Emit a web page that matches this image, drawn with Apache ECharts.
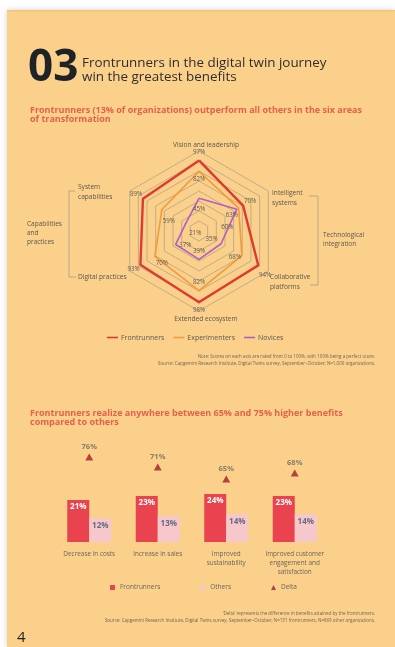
<!DOCTYPE html>
<html><head><meta charset="utf-8">
<script src="https://cdn.jsdelivr.net/npm/echarts@6/dist/echarts.min.js"></script>
<style>html,body{margin:0;padding:0;background:#fff;}#c{width:395px;height:647px;}</style>
</head><body><div id="c"></div>
<script>
// ---- data (radar axes listed counter-clockwise from top) ----
const radarAxes = ['Vision and leadership', 'System\ncapabilities', 'Digital practices', 'Extended ecosystem', 'Collaborative\nplatforms', 'Intelligent\nsystems'];
const radarSeriesNames = ['Frontrunners', 'Experimenters', 'Novices'];
const frontrunnersRadar = [97, 89, 93, 98, 94, 70];
const experimentersRadar = [82, 59, 70, 82, 68, 63];
const novicesRadar = [45, 21, 37, 39, 35, 60];

const benefitCategories = ['Decrease in costs', 'Increase in sales', 'Improved\nsustainability', 'Improved customer\nengagement and\nsatisfaction'];
const benefitSeriesNames = ['Frontrunners\u200b', 'Others', 'Delta'];
const frontrunnersBenefit = [21, 23, 24, 23];
const othersBenefit = [12, 13, 14, 14];
const deltaBenefit = [76, 71, 65, 68];

// ---- layout / styles ----
const F = '"Open Sans", Lato, sans-serif';
const CX = 199, CY = 231;
const radarColors = ['#e0392f', '#f29a3c', '#b25ec4'];
const radarWidths = [2.4, 1.6, 1.6];
const labelOffsets = [8, -8, -11];
const radarValues = [frontrunnersRadar, experimentersRadar, novicesRadar];
const radarNameLayout = [
  { x: 206, y: 145, align: 'center' },
  { x: 78, y: 192, align: 'left' },
  { x: 78, y: 277, align: 'left' },
  { x: 206, y: 319, align: 'center' },
  { x: 270, y: 282, align: 'left' },
  { x: 272, y: 198, align: 'left' }
];

function txt(text, x, y, size, color, opts) {
  opts = opts || {};
  return {
    type: 'text', z: 100, silent: true,
    style: {
      text: text, x: x, y: y, fill: color, fontSize: size, fontFamily: F,
      fontWeight: opts.weight || 'normal', align: opts.align || 'left',
      verticalAlign: opts.va || 'middle', lineHeight: opts.lh || size * 1.15
    }
  };
}
function line(x1, y1, x2, y2) {
  return { type: 'line', z: 50, silent: true, shape: { x1: x1, y1: y1, x2: x2, y2: y2 },
    style: { stroke: '#a89d88', lineWidth: 0.8 } };
}

const graphics = [
  { type: 'rect', z: -10, silent: true, shape: { x: 7, y: 10, width: 388, height: 637 },
    style: { fill: '#fbd08a', shadowBlur: 6, shadowColor: 'rgba(0,0,0,0.18)' } },
  { type: 'rect', z: -9, silent: true, shape: { x: 7, y: 10, width: 388, height: 1.5 },
    style: { fill: '#f1c37c' } },
  txt('03', 28, 68, 44, '#1f2327', { weight: 'bold' }),
  txt('Frontrunners in the digital twin journey\nwin the greatest benefits', 82, 70, 13.4, '#2e2e2e', { lh: 14.5 }),
  txt('Frontrunners (13% of organizations) outperform all others in the six areas\nof transformation', 30, 115, 9, '#e6604b', { weight: 'bold', lh: 8.8 }),
  // left bracket
  line(69, 191, 69, 277), line(69, 191, 75, 191), line(69, 277, 76, 277),
  txt('Capabilities\nand\npractices', 27, 233, 6.5, '#5c574f', { lh: 9 }),
  // right bracket
  line(318, 196, 318, 285), line(309, 196, 318, 196), line(310, 285, 318, 285),
  txt('Technological\nintegration', 323, 240, 6.5, '#5c574f', { lh: 9 }),
  txt('Note: Scores on each axis are rated from 0 to 100%, with 100% being a perfect score.\nSource: Capgemini Research Institute, Digital Twins survey, September\u2013October; N=1,000 organizations.', 375, 360, 4.5, '#6f6658', { align: 'right', lh: 7 }),
  txt('Frontrunners realize anywhere between 65% and 75% higher benefits\ncompared to others', 30, 418, 9, '#e6604b', { weight: 'bold', lh: 9 }),
  txt('\u2018Delta\u2019 represents the difference in benefits attained by the frontrunners.\nSource: Capgemini Research Institute, Digital Twins survey, September\u2013October; N=131 frontrunners, N=869 other organizations.', 375, 617, 4.5, '#6f6658', { align: 'right', lh: 7 }),
  txt('4', 17, 638, 15, '#222222')
];
radarAxes.forEach((n, i) => {
  const L = radarNameLayout[i];
  graphics.push(txt(n, L.x, L.y, 6.6, '#5c574f', { align: L.align, lh: 9.5 }));
});

const chart = echarts.init(document.getElementById('c'), null, { renderer: 'canvas' });
chart.setOption({
  animation: false,
  backgroundColor: '#ffffff',
  textStyle: { fontFamily: F },
  graphic: graphics,
  legend: [
    {
      data: radarSeriesNames.map((n, i) => ({ name: n, icon: 'rect', itemStyle: { color: radarColors[i] } })),
      left: 102, top: 329, itemWidth: 11, itemHeight: 1.6, itemGap: 9, selectedMode: false,
      textStyle: { fontSize: 7, color: '#5a5a5a', fontFamily: F, padding: [0, 0, 0, -2] }
    },
    {
      data: [
        { name: benefitSeriesNames[0], icon: 'rect' },
        { name: benefitSeriesNames[1], icon: 'rect' },
        { name: benefitSeriesNames[2], icon: 'triangle' }
      ],
      left: 105, top: 579, itemWidth: 5, itemHeight: 5, itemGap: 40, selectedMode: false,
      textStyle: { fontSize: 6.5, color: '#6a655e', fontFamily: F }
    }
  ],
  radar: {
    center: [CX, CY], radius: 80, startAngle: 90, splitNumber: 8, shape: 'polygon',
    indicator: radarAxes.map(n => ({ name: n, min: 0, max: 110 })),
    axisName: { show: false },
    splitLine: { lineStyle: { color: '#b0a38c', width: 0.8 } },
    splitArea: { show: false },
    axisLine: { show: false },
    axisTick: { show: false },
    axisLabel: { show: false }
  },
  grid: { left: 55, top: 430, width: 274, height: 112 },
  xAxis: {
    type: 'category', data: benefitCategories,
    axisLine: { show: false }, axisTick: { show: false }, splitLine: { show: false },
    axisLabel: { interval: 0, fontSize: 6.4, color: '#6a655e', lineHeight: 9, margin: 8, fontFamily: F }
  },
  yAxis: [
    { type: 'value', min: 0, max: 56, show: false },
    { type: 'value', min: 33.5, max: 89.5, show: false }
  ],
  series: [
    {
      type: 'radar', symbol: 'circle', symbolSize: 1,
      data: radarSeriesNames.map((n, i) => ({
        name: n, value: radarValues[i],
        lineStyle: { color: radarColors[i], width: radarWidths[i] },
        itemStyle: { color: radarColors[i] }
      })),
      label: { show: true, formatter: '{c}%', fontSize: 6.2, color: '#5f5a55', fontFamily: F },
      labelLayout: function (p) {
        const r = p.rect;
        const px = r.x + r.width / 2, py = r.y + r.height / 2;
        const dx = px - CX, dy = py - CY;
        const len = Math.hypot(dx, dy) || 1;
        const k = labelOffsets[p.dataIndex] || 0;
        return { x: px + dx / len * k, y: py + dy / len * k, align: 'center', verticalAlign: 'middle', moveOverlap: 'shiftY' };
      }
    },
    {
      name: benefitSeriesNames[0], type: 'bar', data: frontrunnersBenefit, barWidth: 22, barGap: '0%',
      itemStyle: { color: '#e8434e' },
      label: { show: true, position: 'insideTop', distance: 3, formatter: '{c}%', color: '#ffffff', fontWeight: 'bold', fontSize: 8, fontFamily: F }
    },
    {
      name: benefitSeriesNames[1], type: 'bar', data: othersBenefit, barWidth: 22,
      itemStyle: { color: '#f6c8cc' },
      label: { show: true, position: 'insideTop', distance: 4, formatter: '{c}%', color: '#686b80', fontWeight: 'bold', fontSize: 8, fontFamily: F }
    },
    {
      name: benefitSeriesNames[2], type: 'scatter', yAxisIndex: 1, data: deltaBenefit,
      symbol: 'triangle', symbolSize: [8, 7], itemStyle: { color: '#a31b2d' },
      label: { show: true, position: 'top', distance: 3, formatter: '{c}%', color: '#6b6560', fontWeight: 'bold', fontSize: 7.5, fontFamily: F }
    }
  ]
});
</script>
</body></html>
